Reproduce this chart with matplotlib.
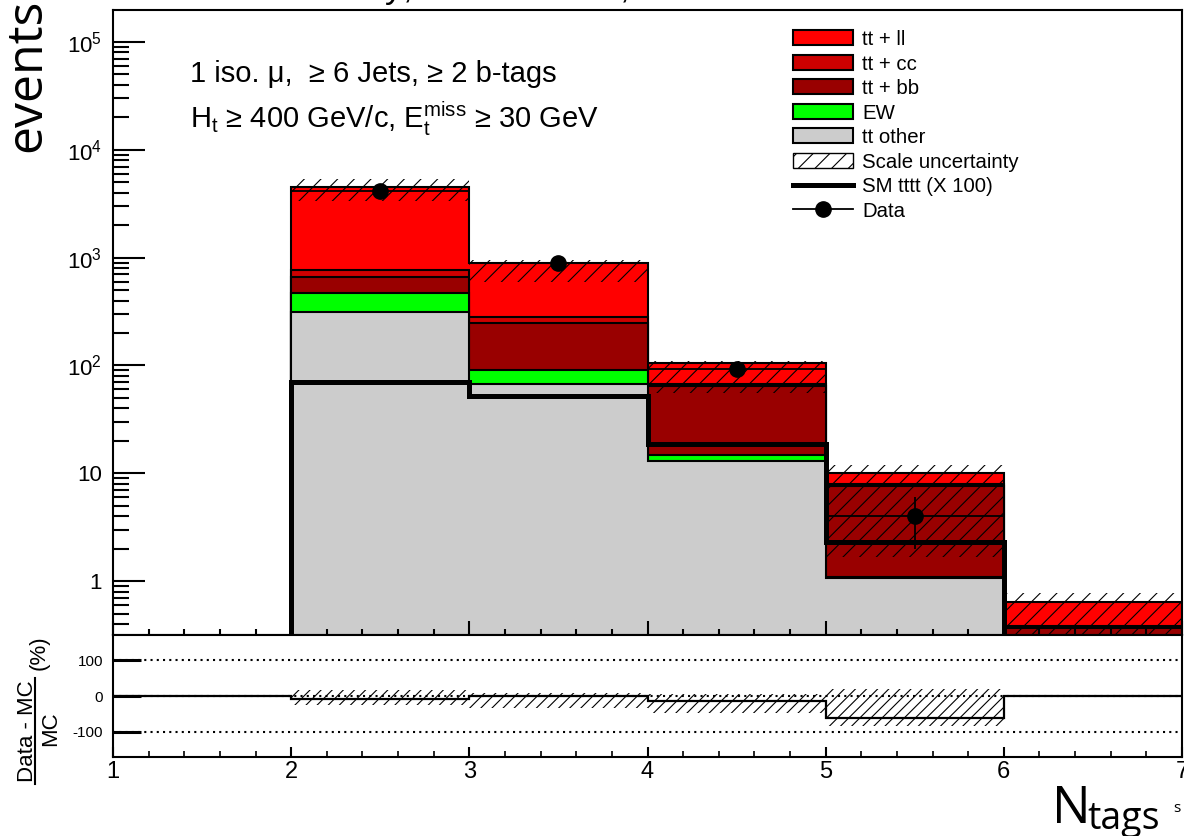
import numpy as np
import matplotlib
matplotlib.use("Agg")
import matplotlib.pyplot as plt
from matplotlib.patches import Patch
from matplotlib.lines import Line2D
from matplotlib.ticker import FixedLocator, MultipleLocator, FuncFormatter, LogLocator, NullFormatter

plt.rcParams["font.family"] = ["Liberation Sans", "DejaVu Sans"]
plt.rcParams["mathtext.fontset"] = "custom"
plt.rcParams["mathtext.rm"] = "Liberation Sans"
plt.rcParams["mathtext.it"] = "Liberation Sans:italic"
plt.rcParams["mathtext.bf"] = "Liberation Sans:bold"
plt.rcParams["hatch.linewidth"] = 0.8
plt.rcParams["axes.unicode_minus"] = False

# --- data, bins N_tags = 1..6 (edges 1..7) ---
edges = np.array([1, 2, 3, 4, 5, 6, 7])
tt_other = np.array([0, 312, 67, 13.0, 1.06, 0])
ew = np.array([0, 155, 23, 1.9, 0.03, 0])
tt_bb = np.array([0, 200, 158, 49.4, 6.6, 0.37])
tt_cc = np.array([0, 107, 32, 3.4, 0.22, 0.013])
tt_ll = np.array([0, 3766, 613, 38.2, 2.19, 0.252])
sm_tttt_x100 = np.array([0, 70, 52, 18.8, 2.31, 0])
data = np.array([0, 4110, 890, 92, 4, 0])
scale_up = np.array([0, 5350, 952, 111, 11.9, 0.77])
scale_down = np.array([0, 3370, 590, 55.4, 1.68, 0.1])

ratio = np.array([0, -9.5, 1, -13, -60, 0])
ratio_up = np.array([0, 18, 9, 5, 20, 0])
ratio_down = np.array([0, -25, -34, -46, -84, 0])

FLOOR = 1e-3
W, H = 1184, 836
centers = edges[:-1] + 0.5


def box(l, t, r, b):
    return [l / W, 1 - b / H, (r - l) / W, (b - t) / H]


fig = plt.figure(figsize=(W / 100, H / 100), dpi=100)
ax = fig.add_axes(box(113, 10, 1182, 635))
ax2 = fig.add_axes(box(113, 635, 1182, 757))

# stacked backgrounds, drawn cumulative from the top down
layers = [(tt_other, "#cccccc"), (ew, "#00ff00"), (tt_bb, "#990000"),
          (tt_cc, "#cc0000"), (tt_ll, "#ff0000")]
cum = np.cumsum([v for v, _ in layers], axis=0)
for i in reversed(range(len(layers))):
    vals = np.where(cum[i] > 0, cum[i], FLOOR)
    ax.stairs(vals, edges, baseline=FLOOR, fill=True, facecolor=layers[i][1],
              edgecolor="black", linewidth=1.5, zorder=1)

sm_vals = np.where(sm_tttt_x100 > 0, sm_tttt_x100, FLOOR)
ax.stairs(sm_vals, edges, baseline=FLOOR, color="black", linewidth=3.6, zorder=3)

sel = scale_up > 0
ax.bar(centers[sel], scale_up[sel] - scale_down[sel], bottom=scale_down[sel], width=1.0,
       fill=False, hatch="//", edgecolor="black", linewidth=0, zorder=4)

has = data > 0
ax.errorbar(centers[has], data[has], xerr=0.5, yerr=np.sqrt(data[has]), fmt="o",
            color="black", ms=11, elinewidth=1.3, capsize=0, zorder=5)

ax.set_yscale("log")
ax.set_xlim(1, 7)
ax.set_ylim(0.316, 1.98e5)
ax.yaxis.set_major_locator(FixedLocator([1, 10, 1e2, 1e3, 1e4, 1e5]))
ax.yaxis.set_minor_locator(LogLocator(base=10, subs=np.arange(2, 10)))
ax.yaxis.set_minor_formatter(NullFormatter())
ax.yaxis.set_major_formatter(FuncFormatter(
    lambda v, p: "1" if v == 1 else ("10" if v == 10 else r"$10^{%d}$" % round(np.log10(v)))))
ax.xaxis.set_major_locator(MultipleLocator(1))
ax.xaxis.set_minor_locator(MultipleLocator(0.2))
ax.tick_params(which="both", direction="in", top=False, right=False, labelbottom=False, width=1.5)
ax.tick_params(axis="y", which="major", length=23, labelsize=16, pad=8)
ax.tick_params(axis="y", which="minor", length=11.5)
ax.tick_params(axis="x", which="major", length=10)
ax.tick_params(axis="x", which="minor", length=4)
for s in ax.spines.values():
    s.set_linewidth(1.5)

# ratio panel
for v in (-100, 0, 100):
    ax2.axhline(v, color="black", lw=1.5, ls=(0, (1, 2)), zorder=1)
rs = ratio_up != ratio_down
ax2.bar(centers[rs], ratio_up[rs] - ratio_down[rs], bottom=ratio_down[rs], width=1.0,
        fill=False, hatch="///", edgecolor="black", linewidth=0, zorder=2)
ax2.stairs(ratio, edges, color="black", linewidth=1.6, zorder=3)
ax2.set_xlim(1, 7)
ax2.set_ylim(-170, 170)
ax2.set_yticks([-100, 0, 100])
ax2.xaxis.set_major_locator(MultipleLocator(1))
ax2.xaxis.set_minor_locator(MultipleLocator(0.2))
ax2.tick_params(which="both", direction="in", top=False, right=False)
ax2.tick_params(axis="y", which="major", length=20, width=2.2, labelsize=11, pad=7)
ax2.tick_params(axis="x", which="major", length=7, width=1.5, labelsize=17, pad=3)
ax2.tick_params(axis="x", which="minor", length=4, width=1.2)
for s in ax2.spines.values():
    s.set_linewidth(1.5)

# texts
fig.text(190 / W, 1 - 82 / H, "1 iso. μ,  ≥ 6 Jets, ≥ 2 b-tags", fontsize=21, va="baseline")
fig.text(190 / W, 1 - 128 / H, r"H$_{\rm t}$ ≥ 400 GeV/c, E$_{\rm t}^{\rm miss}$ ≥ 30 GeV",
         fontsize=21, va="baseline")
fig.text(137 / W, 1 + 1 / H, r"CMS Preliminary, L = 19.6 fb$^{-1}$, 8 TeV", fontsize=25.5,
         va="baseline")

fig.text(40 / W, 1 - 152 / H, "events", rotation=90, rotation_mode="anchor", ha="left",
         va="baseline", fontsize=36, family="Open Sans")
fig.text(1052 / W, 1 - 823 / H, "N", fontsize=37, family="Open Sans", va="baseline")
fig.text(1087 / W, 1 - 829 / H, "tags", fontsize=27, family="Open Sans", va="baseline")
fig.text(1173 / W, 1 - 812 / H, "s", fontsize=11, family="Open Sans", va="baseline")

fig.text(33 / W, 1 - 731 / H, "Data - MC", rotation=90, rotation_mode="anchor", ha="center",
         va="baseline", fontsize=16)
fig.add_artist(Line2D([35 / W, 35 / W], [1 - 784 / H, 1 - 678 / H], color="black", lw=1.5))
fig.text(56 / W, 1 - 729 / H, "MC", rotation=90, rotation_mode="anchor", ha="center",
         va="baseline", fontsize=16)
fig.text(45 / W, 1 - 653 / H, "(%)", rotation=90, rotation_mode="anchor", ha="center",
         va="baseline", fontsize=16)

handles = [
    Patch(facecolor="#ff0000", edgecolor="black", lw=1.5, label="tt + ll"),
    Patch(facecolor="#cc0000", edgecolor="black", lw=1.5, label="tt + cc"),
    Patch(facecolor="#990000", edgecolor="black", lw=1.5, label="tt + bb"),
    Patch(facecolor="#00ff00", edgecolor="black", lw=1.5, label="EW"),
    Patch(facecolor="#cccccc", edgecolor="black", lw=1.5, label="tt other"),
    Patch(facecolor="white", edgecolor="black", hatch="//", lw=1.0, label="Scale uncertainty"),
    Line2D([], [], color="black", lw=3.6, label="SM tttt (X 100)"),
    Line2D([], [], color="black", lw=1.3, marker="o", ms=11, label="Data"),
]
fig.legend(handles=handles, loc="upper left", bbox_to_anchor=(793 / W, 1 - 30 / H),
           frameon=False, fontsize=14.7, handlelength=2.95, handleheight=0.75,
           handletextpad=0.45, labelspacing=0.27, borderpad=0, borderaxespad=0)

fig.savefig("out.png", dpi=100)
